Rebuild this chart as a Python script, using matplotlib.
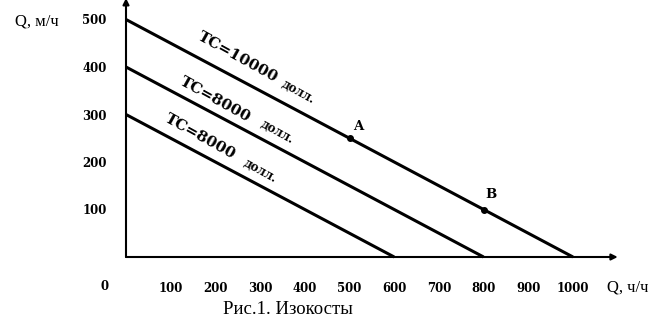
import matplotlib
matplotlib.use("Agg")
import matplotlib.pyplot as plt

# isocost lines: intercepts on both axes
tc_labels = ["TC=10000", "TC=8000", "TC=8000"]
q_m_max = [500, 400, 300]      # Q, м/ч at zero ч/ч
q_h_max = [1000, 800, 600]     # Q, ч/ч at zero м/ч

point_names = ["A", "B"]
point_x = [500, 800]
point_y = [250, 100]

xtick_vals = [100, 200, 300, 400, 500, 600, 700, 800, 900, 1000]
ytick_vals = [100, 200, 300, 400, 500]

W, H = 655, 328
fig = plt.figure(figsize=(W / 100, H / 100), dpi=100)
# data 0 at px 126, 0.447 px per unit; y 0 at px 257, 0.475 px per unit
ax = fig.add_axes([126 / W, (H - 257) / H, 1100 * 0.447 / W, 541 * 0.475 / H])
ax.set_xlim(0, 1100)
ax.set_ylim(0, 541)
for s in ax.spines.values():
    s.set_visible(False)

num_font = dict(family="DejaVu Serif", weight="bold", size=8.5)
ax.set_xticks(xtick_vals)
ax.set_xticklabels([str(v) for v in xtick_vals], **num_font)
ax.set_yticks(ytick_vals)
ax.set_yticklabels([str(v) for v in ytick_vals], **num_font)
ax.tick_params(axis="x", length=0, pad=18)
ax.tick_params(axis="y", length=0, pad=14)

# axes with arrows
arr = dict(arrowstyle="-|>", color="black", lw=1.5, mutation_scale=9, shrinkA=0, shrinkB=0)
ax.annotate("", xy=(1100, 0), xytext=(0, 0), arrowprops=arr, annotation_clip=False)
ax.annotate("", xy=(0, 545), xytext=(0, 0), arrowprops=arr, annotation_clip=False)

for ym, xm in zip(q_m_max, q_h_max):
    ax.plot([0, xm], [ym, 0], color="black", lw=2.2, solid_capstyle="butt", clip_on=False)

# line labels
lab_main = [(250, 421), (199, 331), (165, 253)]
lab_unit = [(384, 347), (339, 263), (301, 181)]
for lbl, (mx, my), (ux, uy) in zip(tc_labels, lab_main, lab_unit):
    ax.text(mx, my, lbl, rotation=-29, ha="center", va="center", rotation_mode="anchor",
            family="DejaVu Serif", weight="bold", fontsize=11)
    ax.text(ux, uy, "долл.", rotation=-29, ha="center", va="center", rotation_mode="anchor",
            family="DejaVu Serif", weight="bold", fontsize=8.5)

ax.plot(point_x, point_y, "o", color="black", ms=4, clip_on=False)
for name, px, py, off in zip(point_names, point_x, point_y, [(6.5, 8.6), (5, 11)]):
    ax.annotate(name, (px, py), xytext=off, textcoords="offset points",
                ha="center", va="center", family="DejaVu Serif", weight="bold", fontsize=9.5)

fig.text(15 / W, 1 - 21 / H, "Q, м/ч", ha="left", va="center",
         family="Liberation Serif", fontsize=12)
fig.text(607 / W, 1 - 287 / H, "Q, ч/ч", ha="left", va="center",
         family="Liberation Serif", fontsize=12)
fig.text(105 / W, 1 - 287 / H, "0", ha="center", va="center", **num_font)
fig.text(288 / W, 1 - 310 / H, "Рис.1. Изокосты", ha="center", va="center",
         family="Liberation Serif", fontsize=13.5)

fig.savefig("out.png", dpi=100)
